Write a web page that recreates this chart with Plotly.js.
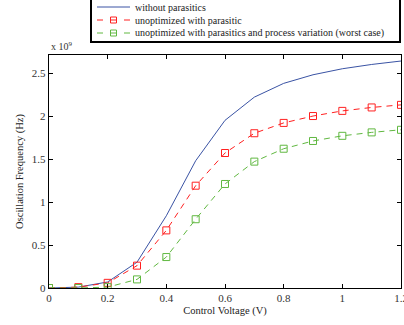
<!DOCTYPE html>
<html><head><meta charset="utf-8">
<script src="https://cdn.plot.ly/plotly-3.0.1.min.js"></script>
<style>html,body{margin:0;padding:0;background:#fff}#c{width:404px;height:325px}</style>
</head><body><div id="c"></div>
<script>
const voltage = [0, 0.1, 0.2, 0.3, 0.4, 0.5, 0.6, 0.7, 0.8, 0.9, 1.0, 1.1, 1.2];
const withoutParasitics = [0, 0.01, 0.07, 0.30, 0.84, 1.48, 1.95, 2.22, 2.38, 2.48, 2.55, 2.60, 2.64];
const unoptParasitic = [0, 0.01, 0.06, 0.26, 0.67, 1.19, 1.57, 1.80, 1.92, 2.00, 2.06, 2.10, 2.13];
const unoptProcessVar = [0, 0, 0.01, 0.10, 0.36, 0.80, 1.21, 1.47, 1.62, 1.71, 1.77, 1.81, 1.84];
const seriesNames = ["without parasitics", "unoptimized with parasitic", "unoptimized with parasitics and process variation (worst case)"];
const seriesColors = ["#3a53a4", "#ff2020", "#60b840"];
const scale = 1e9;
const xTicks = [0, 0.2, 0.4, 0.6, 0.8, 1, 1.2];
const yTicks = [0, 0.5, 1, 1.5, 2, 2.5];

const W = 404, H = 325;
const M = {l: 49, r: 3, t: 55, b: 37};
const pw = W - M.l - M.r, ph = H - M.t - M.b;
const px = x => (x - M.l) / pw;
const py = y => (H - M.b - y) / ph;

const toHz = a => a.map(v => v * scale);
const serif = "Liberation Serif, Times New Roman, serif";
const tickFont = {family: serif, size: 11, color: "#333"};
const textFont = {family: serif, size: 10.5, color: "#222"};

const traces = [
  {x: voltage, y: toHz(withoutParasitics), name: seriesNames[0], mode: "lines",
   line: {color: seriesColors[0], width: 1}},
  {x: voltage, y: toHz(unoptParasitic), name: seriesNames[1], mode: "lines+markers",
   line: {color: seriesColors[1], width: 1, dash: "6px,5px"},
   marker: {symbol: "square-open", size: 7, color: seriesColors[1], line: {width: 1}}},
  {x: voltage, y: toHz(unoptProcessVar), name: seriesNames[2], mode: "lines+markers",
   line: {color: seriesColors[2], width: 1, dash: "6px,5px"},
   marker: {symbol: "square-open", size: 7, color: seriesColors[2], line: {width: 1}}}
];

// manual legend (box, samples, labels)
const shapes = [{type: "rect", xref: "paper", yref: "paper",
  x0: px(91), x1: px(400), y0: py(42), y1: py(-3),
  line: {color: "#000", width: 2}, fillcolor: "#fff", layer: "above"}];
const annotations = [];
const rowY = [7, 20, 33];
seriesNames.forEach((name, i) => {
  const yy = py(rowY[i]);
  const c = seriesColors[i];
  if (i === 0) {
    shapes.push({type: "line", xref: "paper", yref: "paper", x0: px(97), x1: px(130), y0: yy, y1: yy,
      line: {color: c, width: 1}, layer: "above"});
  } else {
    shapes.push({type: "line", xref: "paper", yref: "paper", x0: px(97), x1: px(103), y0: yy, y1: yy,
      line: {color: c, width: 1}, layer: "above"});
    shapes.push({type: "line", xref: "paper", yref: "paper", x0: px(124), x1: px(130), y0: yy, y1: yy,
      line: {color: c, width: 1}, layer: "above"});
    shapes.push({type: "line", xref: "paper", yref: "paper", x0: px(110), x1: px(117), y0: yy, y1: yy,
      line: {color: c, width: 1}, layer: "above"});
    shapes.push({type: "rect", xref: "paper", yref: "paper", x0: px(110.5), x1: px(116.5),
      y0: py(rowY[i] + 3), y1: py(rowY[i] - 3), line: {color: c, width: 1}, layer: "above"});
  }
  annotations.push({xref: "paper", yref: "paper", x: px(133), y: yy, xanchor: "left", yanchor: "middle",
    showarrow: false, text: name, font: {family: serif, size: 10, color: "#222"}});
});
annotations.push({xref: "paper", yref: "paper", x: 0, y: 1, xanchor: "left", yanchor: "bottom",
  yshift: 1, showarrow: false, text: "x 10<sup>9</sup>", font: {family: serif, size: 10, color: "#333"}});

const layout = {
  width: W, height: H, margin: M,
  paper_bgcolor: "#fff", plot_bgcolor: "#fff",
  font: tickFont, showlegend: false,
  xaxis: {range: [0, 1.2], tickvals: xTicks, ticktext: xTicks.map(String), ticklabeloverflow: "allow",
    ticks: "inside", ticklen: 4, tickcolor: "#000", showgrid: false, zeroline: false,
    showline: true, linecolor: "#000", linewidth: 1.2, mirror: "ticks",
    title: {text: "Control Voltage (V)", font: textFont, standoff: 3}, tickfont: tickFont},
  yaxis: {range: [0, 2.71e9], tickvals: yTicks.map(v => v * scale), ticktext: yTicks.map(String),
    ticks: "inside", ticklen: 4, tickcolor: "#000", showgrid: false, zeroline: false,
    showline: true, linecolor: "#000", linewidth: 1.2, mirror: "ticks",
    title: {text: "Oscillation Frequency (Hz)", font: textFont, standoff: 6}, tickfont: tickFont},
  shapes: shapes, annotations: annotations
};
Plotly.newPlot("c", traces, layout, {displayModeBar: false, staticPlot: true});
</script></body></html>
